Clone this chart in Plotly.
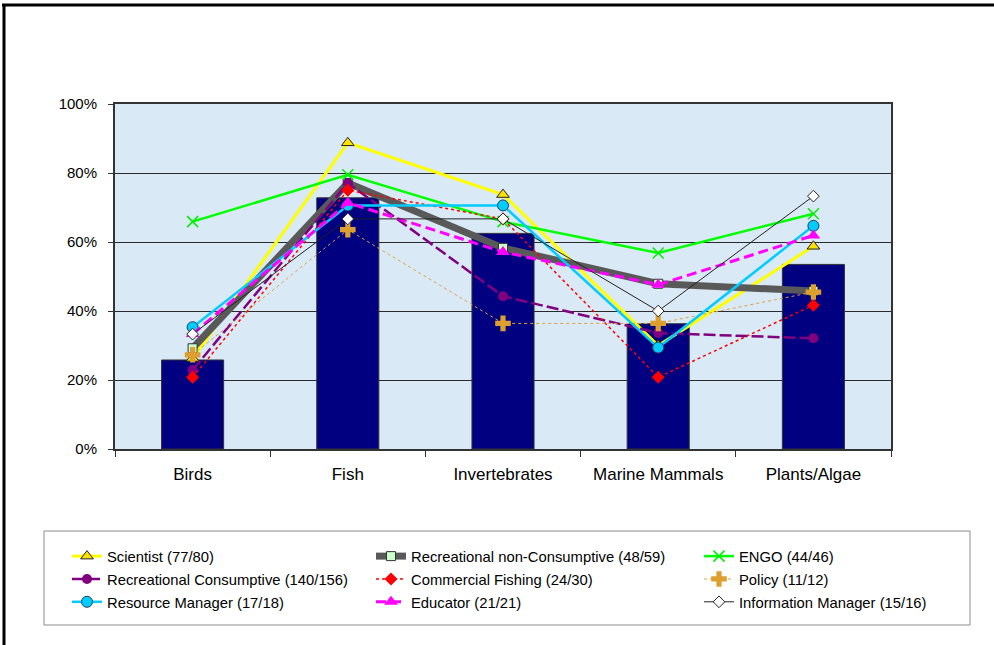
import plotly.graph_objects as go

categories = ["Birds", "Fish", "Invertebrates", "Marine Mammals", "Plants/Algae"]
overall = [25.8, 72.8, 62.5, 36.3, 53.5]

scientist = [26.25, 88.75, 73.75, 30.0, 58.75]
rec_noncons = [29.2, 77.1, 58.3, 47.9, 45.8]
engo = [65.9, 79.5, 65.9, 56.8, 68.2]
rec_cons = [22.9, 77.1, 44.3, 33.6, 32.1]
commercial = [20.8, 75.0, 66.7, 20.8, 41.7]
policy = [27.3, 63.6, 36.4, 36.4, 45.5]
resource = [35.3, 70.6, 70.6, 29.4, 64.7]
educator = [33.3, 71.4, 57.1, 47.6, 61.9]
info_mgr = [33.3, 66.7, 66.7, 40.0, 73.3]

y_ticks = [0, 20, 40, 60, 80, 100]
y_tick_labels = ["0%", "20%", "40%", "60%", "80%", "100%"]

FONT = "Liberation Sans, Arial, sans-serif"

fig = go.Figure()
fig.add_trace(go.Bar(x=categories, y=overall, width=0.4, marker=dict(color="#000080", line=dict(color="#333333", width=1)),
                     showlegend=False, hoverinfo="y"))

series = [
    ("Scientist (77/80)", scientist, dict(color="#FFFF00", width=3), dict(symbol="triangle-up", size=11, color="#FFE000", line=dict(color="#222222", width=1)), "legend"),
    ("Recreational Consumptive (140/156)", rec_cons, dict(color="#800080", width=2.5, dash="12px,4px"), dict(symbol="circle", size=10, color="#800080"), "legend"),
    ("Resource Manager (17/18)", resource, dict(color="#00CCFF", width=2.5), dict(symbol="circle", size=11, color="#00CCFF", line=dict(color="#1F3F5F", width=1)), "legend"),
    ("Recreational non-Consumptive (48/59)", rec_noncons, dict(color="#595959", width=7), dict(symbol="square", size=9, color="#CCFFCC", line=dict(color="#333333", width=1)), "legend2"),
    ("Commercial Fishing (24/30)", commercial, dict(color="#FF0000", width=1.5, dash="dot"), dict(symbol="diamond", size=10, color="#FF0000"), "legend2"),
    ("Educator (21/21)", educator, dict(color="#FF00FF", width=3, dash="10px,5px"), dict(symbol="triangle-up", size=12, color="#FF00FF"), "legend2"),
    ("ENGO (44/46)", engo, dict(color="#00FF00", width=2.5), dict(symbol="x-thin", size=11, color="#00EE00", line=dict(color="#00EE00", width=1.5)), "legend3"),
    ("Policy (11/12)", policy, dict(color="#E0A040", width=1, dash="dot"), dict(symbol="cross", size=13, color="#DDA030"), "legend3"),
    ("Information Manager (15/16)", info_mgr, dict(color="#222222", width=1), dict(symbol="diamond", size=9, color="#FFFFFF", line=dict(color="#222222", width=1)), "legend3"),
]

draw_order = [
    "Scientist (77/80)", "Recreational non-Consumptive (48/59)", "ENGO (44/46)",
    "Recreational Consumptive (140/156)", "Commercial Fishing (24/30)", "Policy (11/12)",
    "Resource Manager (17/18)", "Educator (21/21)", "Information Manager (15/16)",
]
lookup = {s[0]: s for s in series}
names_in_legend_order = [s[0] for s in series]
for name in draw_order:
    nm, vals, line, marker, leg = lookup[name]
    fig.add_trace(go.Scatter(x=categories, y=vals, name=nm, mode="lines+markers",
                             line=line, marker=marker, legend=leg, legendgroup=nm,
                             legendrank=names_in_legend_order.index(nm)))

L, R, T, B = 115, 103, 104, 196
W, H = 994, 645
pw, ph = W - L - R, H - T - B

def px(xp):
    return (xp - L) / pw

def py(yp):
    return (H - B - yp) / ph

leg_common = dict(font=dict(family=FONT, size=14.8, color="#000000"), bgcolor="rgba(0,0,0,0)",
                  borderwidth=0, itemwidth=30, tracegroupgap=0.6, yanchor="top", xanchor="left",
                  traceorder="grouped", itemclick=False, itemdoubleclick=False)

fig.update_layout(
    width=W, height=H,
    margin=dict(l=L, r=R, t=T, b=B),
    paper_bgcolor="#FFFFFF",
    plot_bgcolor="#D9E9F5",
    font=dict(family=FONT, color="#000000"),
    barmode="overlay",
    legend=dict(x=px(67), y=py(540), **leg_common),
    legend2=dict(x=px(371), y=py(540), **leg_common),
    legend3=dict(x=px(699), y=py(540), **leg_common),
    xaxis=dict(showline=True, linecolor="#333333", linewidth=2, mirror=True,
               ticks="outside", ticklen=6, tickcolor="#333333", tickson="boundaries",
               tickfont=dict(family=FONT, size=17), ticklabelstandoff=9,
               showgrid=False, range=[-0.5, 4.5]),
    yaxis=dict(range=[0, 100], tickvals=y_ticks, ticktext=y_tick_labels,
               showline=True, linecolor="#333333", linewidth=2, mirror=True,
               ticks="outside", ticklen=5, tickcolor="#333333",
               tickfont=dict(family=FONT, size=15), ticklabelstandoff=8,
               showgrid=True, gridcolor="#2A2A2A", gridwidth=1, zeroline=False),
    shapes=[
        dict(type="rect", xref="paper", yref="paper", x0=px(44), x1=px(970), y0=py(625), y1=py(531),
             line=dict(color="#8A8A8A", width=1), fillcolor="rgba(0,0,0,0)", layer="below"),
        dict(type="line", xref="paper", yref="paper", x0=px(2), x1=px(1000), y0=py(5), y1=py(5),
             line=dict(color="#000000", width=3)),
        dict(type="line", xref="paper", yref="paper", x0=px(4), x1=px(4), y0=py(5), y1=py(650),
             line=dict(color="#000000", width=3)),
    ],
)

fig.write_html("out.html", config={"displayModeBar": False},
               post_script="document.body.style.margin='0';document.body.style.overflow='hidden';")
